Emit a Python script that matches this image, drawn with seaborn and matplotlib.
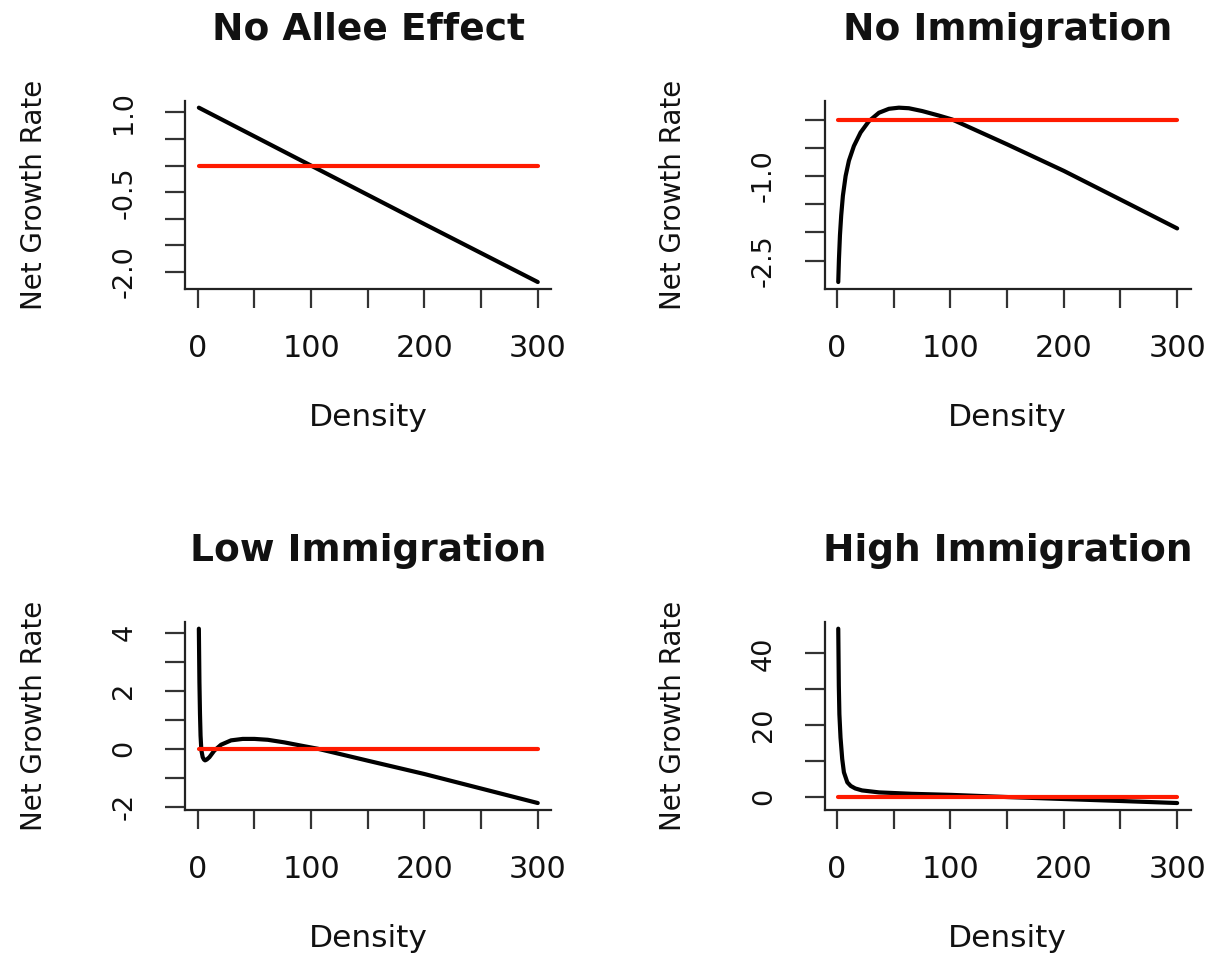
import matplotlib
matplotlib.use("Agg")
import matplotlib.pyplot as plt
import seaborn as sns

# ---------------- data ----------------
titles = ["No Allee Effect", "No Immigration", "Low Immigration", "High Immigration"]

density_no_allee = [1, 100, 200, 300]
rate_no_allee = [1.089, 0.0, -1.1, -2.189]

density_no_imm = [1, 1.6, 2.5, 3.6, 5.1, 7.5, 10.4, 14.8, 20.7, 28, 36.9, 45.7,
                  54.5, 63.3, 75.1, 89.8, 101.6, 150, 200, 257, 300]
rate_no_imm = [-2.88, -2.48, -2.05, -1.70, -1.35, -1.00, -0.73, -0.47, -0.23, -0.03,
               0.12, 0.19, 0.21, 0.20, 0.15, 0.07, 0.0, -0.44, -0.91, -1.49, -1.93]

density_low_imm = [1, 1.5, 2, 2.5, 3.2, 4.4, 5.5, 6.5, 8, 10.3, 14.7, 20.6, 29.4,
                   39.7, 50, 61.8, 76.5, 91, 106, 120, 150, 200, 250, 300]
rate_low_imm = [4.14, 2.3, 1.2, 0.45, -0.05, -0.29, -0.37, -0.40, -0.37, -0.29,
                -0.06, 0.14, 0.29, 0.34, 0.34, 0.31, 0.22, 0.11, 0.0, -0.13,
                -0.41, -0.87, -1.37, -1.87]

density_high_imm = [1, 1.5, 2, 3, 4.5, 6, 9, 12, 16, 22, 37, 66, 101, 150, 200, 250, 300]
rate_high_imm = [46.9, 31.0, 23.0, 16.5, 10.5, 6.8, 4.0, 3.0, 2.3, 1.75, 1.2, 0.8,
                 0.5, -0.1, -0.65, -1.2, -1.77]

zero_line_x = [1, 300]
zero_line_y = [0, 0]

xticks = [0, 50, 100, 150, 200, 250, 300]
xtick_labels = ["0", "", "100", "", "200", "", "300"]

yticks_no_allee = [-2.0, -1.5, -1.0, -0.5, 0.0, 0.5, 1.0]
ytick_labels_no_allee = ["-2.0", "", "", "-0.5", "", "", "1.0"]
yticks_no_imm = [-2.5, -2.0, -1.5, -1.0, -0.5, 0.0]
ytick_labels_no_imm = ["-2.5", "", "", "-1.0", "", ""]
yticks_low_imm = [-2, -1, 0, 1, 2, 3, 4]
ytick_labels_low_imm = ["-2", "", "0", "", "2", "", "4"]
yticks_high_imm = [0, 10, 20, 30, 40]
ytick_labels_high_imm = ["0", "", "20", "", "40"]

x_label = "Density"
y_label = "Net Growth Rate"

# ---------------- styling ----------------
sns.set_theme(style="ticks", rc={
    "lines.solid_capstyle": "round",
    "axes.edgecolor": "#222222",
    "axes.linewidth": 1.6,
    "xtick.color": "#333333",
    "ytick.color": "#333333",
    "xtick.labelcolor": "#111111",
    "ytick.labelcolor": "#111111",
    "xtick.major.size": 13.5,
    "ytick.major.size": 14.5,
    "xtick.major.width": 1.6,
    "ytick.major.width": 1.6,
    "text.color": "#111111",
    "axes.labelcolor": "#111111",
})
plt.rcParams["font.family"] = ["DejaVu Sans"]

fig = plt.figure(figsize=(12.13, 9.56), dpi=100)

W, H = 1213.0, 956.0
pw, ph = 366.0, 188.3
positions = [
    (185.3, 100.7),
    (824.7, 100.7),
    (185.3, 621.7),
    (824.7, 621.7),
]

panels = [
    (density_no_allee, rate_no_allee, yticks_no_allee, ytick_labels_no_allee),
    (density_no_imm, rate_no_imm, yticks_no_imm, ytick_labels_no_imm),
    (density_low_imm, rate_low_imm, yticks_low_imm, ytick_labels_low_imm),
    (density_high_imm, rate_high_imm, yticks_high_imm, ytick_labels_high_imm),
]

base_fs = 21.8
for (left, top), title, (xs, ys, yt, ytl) in zip(positions, titles, panels):
    ax = fig.add_axes([left / W, 1 - (top + ph) / H, pw / W, ph / H])
    sns.lineplot(x=xs, y=ys, ax=ax, color="black", linewidth=3.0,
                 estimator=None, sort=False)
    sns.lineplot(x=zero_line_x, y=zero_line_y, ax=ax, color="#ff1a00",
                 linewidth=3.0, estimator=None, sort=False)

    xmin, xmax = min(xs), max(xs)
    ymin, ymax = min(ys), max(ys)
    xr, yr = xmax - xmin, ymax - ymin
    ax.set_xlim(xmin - 0.04 * xr, xmax + 0.04 * xr)
    ax.set_ylim(ymin - 0.04 * yr, ymax + 0.04 * yr)

    sns.despine(ax=ax)
    ax.set_xticks(xticks)
    ax.set_xticklabels(xtick_labels, fontsize=base_fs)
    ax.set_yticks(yt)
    ax.set_yticklabels(ytl, fontsize=19.5, rotation=90, va="center")
    ax.tick_params(axis="x", pad=19)
    ax.tick_params(axis="y", pad=20)

    ax.set_title(title, fontsize=27, fontweight="bold", pad=44)
    ax.set_xlabel(x_label, fontsize=22.5)
    ax.set_ylabel(y_label, fontsize=20)
    ax.xaxis.set_label_coords(0.5, -0.605)
    ax.yaxis.set_label_coords(-0.375, 0.5)

fig.savefig("out.png", dpi=100)
